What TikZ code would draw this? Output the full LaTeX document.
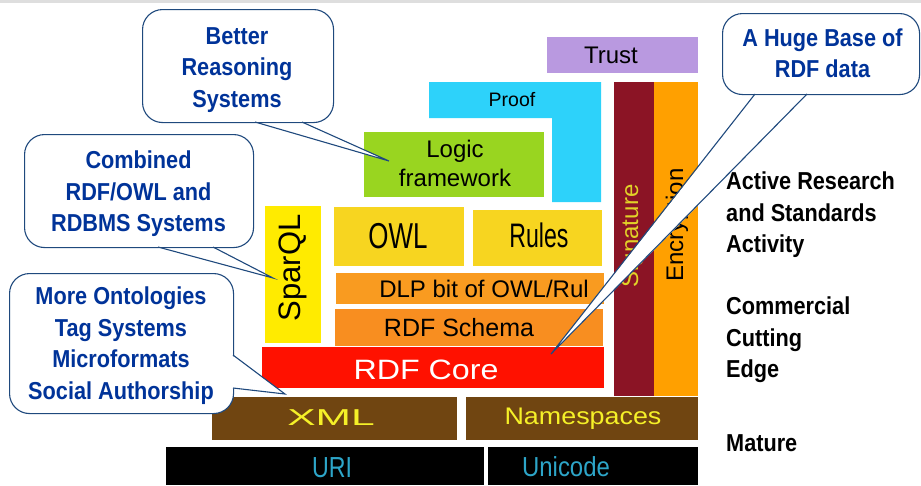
\documentclass[tikz,border=0pt]{standalone}
\usepackage{fontspec}
\setmainfont{Liberation Sans}
\newfontfamily\callfont[FakeStretch=0.885]{Liberation Sans}
\newfontfamily\owlfont[FakeStretch=0.72]{Liberation Sans}
\newfontfamily\rulesfont[FakeStretch=0.68]{Liberation Sans}
\newfontfamily\xmlfont[FakeStretch=1.85]{Liberation Sans}
\newfontfamily\corefont[FakeStretch=1.15]{Liberation Sans}
\newfontfamily\urifont[FakeStretch=0.8]{Liberation Sans}
\newfontfamily\unifont[FakeStretch=0.87]{Liberation Sans}
\newfontfamily\nsfont[FakeStretch=1.12]{Liberation Sans}
\definecolor{trustc}{RGB}{185,153,224}
\definecolor{proofc}{RGB}{45,210,250}
\definecolor{logicc}{RGB}{153,213,32}
\definecolor{sparqlc}{RGB}{255,235,0}
\definecolor{owlc}{RGB}{247,213,32}
\definecolor{dlpc}{RGB}{249,155,32}
\definecolor{schemac}{RGB}{248,142,32}
\definecolor{corec}{RGB}{255,17,0}
\definecolor{xmlc}{RGB}{112,69,17}
\definecolor{sigc}{RGB}{139,20,37}
\definecolor{encc}{RGB}{255,160,0}
\definecolor{xmltext}{RGB}{245,240,40}
\definecolor{sigtext}{RGB}{225,210,40}
\definecolor{uritext}{RGB}{45,165,200}
\definecolor{calltext}{RGB}{0,51,153}
\definecolor{callline}{RGB}{31,73,125}
\definecolor{topline}{RGB}{222,222,222}
\begin{document}
\begin{tikzpicture}[x=1pt,y=-1pt,
  layer/.style={draw=none, inner sep=0pt, outer sep=0pt, anchor=north west},
  stacktext/.style={inner sep=0pt, outer sep=0pt, text=black},
  callbox/.style={draw=callline, line width=1.1pt, fill=white, rounded corners=20pt,
    anchor=north west, inner sep=0pt},
  calltxt/.style={inner sep=0pt, align=center, text=calltext,
    font=\callfont\bfseries\fontsize{24.5}{31.5}\selectfont},
  callptr/.style={draw=callline, line width=1.1pt, line join=miter},
  sidetext/.style={anchor=north west, align=left, inner sep=0pt, text=black,
    font=\callfont\bfseries\fontsize{24.5}{31.5}\selectfont}]
\useasboundingbox (0,0) rectangle (921,485);
\fill[topline] (0,0) rectangle (921,2.5);

% ---- stack ----
\node[layer, fill=trustc, minimum width=151pt, minimum height=36pt] (trust) at (547,37) {};
\node[stacktext, font=\fontsize{24}{28}\selectfont] (trustt) at (611,55) {Trust};

\fill[proofc] (429,82) -- (601,82) -- (601,202) -- (552,202) -- (552,118) -- (429,118) -- cycle;
\node[stacktext, font=\fontsize{19.5}{24}\selectfont] (prooft) at (512,100) {Proof};

\node[layer, fill=logicc, minimum width=180pt, minimum height=65pt] (logic) at (364,132) {};
\node[stacktext, align=center, font=\fontsize{24}{29}\selectfont] (logict) at (455,163) {Logic\\framework};

\node[layer, fill=sparqlc, minimum width=56pt, minimum height=137pt] (sparql) at (265,206) {};
\node[stacktext, rotate=90, font=\fontsize{31}{36}\selectfont] (sparqlt) at (293,268) {SparQL};

\node[layer, fill=owlc, minimum width=130pt, minimum height=59pt] (owl) at (334,207) {};
\node[stacktext, font=\owlfont\fontsize{36}{40}\selectfont] (owlt) at (398,236) {OWL};

\node[layer, fill=owlc, minimum width=129pt, minimum height=56pt] (rules) at (473,210) {};
\node[stacktext, font=\rulesfont\fontsize{34}{38}\selectfont] (rulest) at (539,235) {Rules};

\node[layer, fill=dlpc, minimum width=268pt, minimum height=31pt] (dlp) at (336,273) {};
\node[stacktext, font=\fontsize{24}{28}\selectfont] (dlpt) at (484,289) {DLP bit of OWL/Rul};

\node[layer, fill=schemac, minimum width=268pt, minimum height=37pt] (schema) at (335,309) {};
\node[stacktext, font=\fontsize{25}{29}\selectfont] (schemat) at (459,328) {RDF Schema};

\node[layer, fill=corec, minimum width=342pt, minimum height=41pt] (core) at (262,347) {};
\node[stacktext, text=white, font=\corefont\fontsize{28}{32}\selectfont] (coret) at (426,370) {RDF Core};

\node[layer, fill=sigc, minimum width=40pt, minimum height=314pt] (sig) at (614,82) {};
\node[stacktext, text=sigtext, rotate=90, font=\fontsize{24}{28}\selectfont] (sigt) at (632,236) {Signature};

\node[layer, fill=encc, minimum width=44pt, minimum height=314pt] (enc) at (654,82) {};
\node[stacktext, rotate=90, font=\fontsize{24}{28}\selectfont] (enct) at (677,225) {Encryption};

\node[layer, fill=xmlc, minimum width=245pt, minimum height=43pt] (xml) at (212,397) {};
\node[stacktext, text=xmltext, font=\xmlfont\fontsize{23}{27}\selectfont] (xmlt) at (331,418) {XML};

\node[layer, fill=xmlc, minimum width=232pt, minimum height=43pt] (ns) at (466,397) {};
\node[stacktext, text=xmltext, font=\nsfont\fontsize{24}{28}\selectfont] (nst) at (583,419) {Namespaces};

\node[layer, fill=black, minimum width=318pt, minimum height=38pt] (uri) at (166,447) {};
\node[stacktext, text=uritext, font=\urifont\fontsize{29}{33}\selectfont] (urit) at (332,468) {URI};

\node[layer, fill=black, minimum width=210pt, minimum height=38pt] (uni) at (488,447) {};
\node[stacktext, text=uritext, font=\unifont\fontsize{27.5}{32}\selectfont] (unit) at (566,467) {Unicode};

% ---- right side text ----
\node[sidetext] (active) at (726,172) {Active Research\\and Standards\\Activity};
\node[sidetext] (commercial) at (726,297) {Commercial\\Cutting\\Edge};
\node[sidetext] (mature) at (726,434) {Mature};

% ---- callouts ----
% Better Reasoning Systems
\node[callbox, minimum width=191pt, minimum height=113pt] (cb1) at (142,9) {};
\coordinate (cb1a) at (255,122);
\coordinate (cb1b) at (302,122);
\coordinate (cb1tip) at (389,161);
\fill[white] ([yshift=-1.5pt]cb1a) -- (cb1tip) -- ([yshift=-1.5pt]cb1b) -- cycle;
\draw[callptr] (cb1a) -- (cb1tip) -- (cb1b);
\node[calltxt] (cb1t) at (237,70) {Better\\Reasoning\\Systems};

% Combined RDF/OWL and RDBMS Systems
\node[callbox, minimum width=229pt, minimum height=113pt] (cb2) at (24,134) {};
\coordinate (cb2a) at (158,247);
\coordinate (cb2b) at (213,247);
\coordinate (cb2tip) at (273,278);
\fill[white] ([yshift=-1.5pt]cb2a) -- (cb2tip) -- ([yshift=-1.5pt]cb2b) -- cycle;
\draw[callptr] (cb2a) -- (cb2tip) -- (cb2b);
\node[calltxt] (cb2t) at (138.5,194) {Combined\\RDF/OWL and\\RDBMS Systems};

% More Ontologies ...
\node[callbox, minimum width=224pt, minimum height=140pt] (cb3) at (9,273) {};
\coordinate (cb3a) at (233,355);
\coordinate (cb3b) at (233,388);
\coordinate (cb3tip) at (285,394);
\fill[white] ([xshift=-1.5pt]cb3a) -- (cb3tip) -- ([xshift=-1.5pt]cb3b) -- cycle;
\draw[callptr] (cb3a) -- (cb3tip) -- (cb3b);
\node[calltxt] (cb3t) at (121,345.5) {More Ontologies\\Tag Systems\\Microformats\\Social Authorship};

% A Huge Base of RDF data
\node[callbox, minimum width=197pt, minimum height=81pt] (cb4) at (722,13) {};
\coordinate (cb4a) at (755,94);
\coordinate (cb4b) at (807,94);
\coordinate (cb4tip) at (551,354);
\fill[white] ([yshift=-1.5pt]cb4a) -- (cb4tip) -- ([yshift=-1.5pt]cb4b) -- cycle;
\draw[callptr] (cb4a) -- (cb4tip) -- (cb4b);
\node[calltxt] (cb4t) at (822.5,53) {A Huge Base of\\RDF data};
\end{tikzpicture}
\end{document}
